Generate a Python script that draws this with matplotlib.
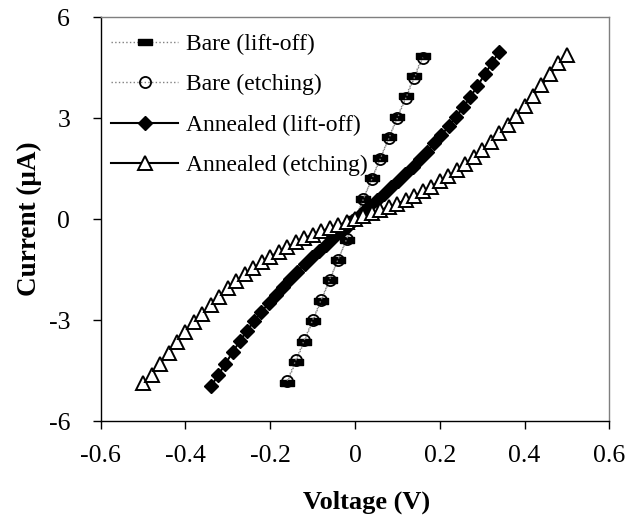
import matplotlib
matplotlib.use('Agg')
import matplotlib.pyplot as plt
import numpy as np

plt.rcParams['font.family'] = 'Liberation Serif'
plt.rcParams['font.size'] = 17
plt.rcParams['axes.unicode_minus'] = False

# Bare samples (V, uA)
v_bare = [-0.16, -0.14, -0.12, -0.10, -0.08, -0.06, -0.04, -0.02, 0.0,
          0.02, 0.04, 0.06, 0.08, 0.10, 0.12, 0.14, 0.16]
i_bare_liftoff = [-4.86, -4.25, -3.65, -3.04, -2.43, -1.82, -1.22, -0.61, 0.0,
                  0.61, 1.22, 1.82, 2.43, 3.04, 3.65, 4.25, 4.86]
i_bare_etching = [-4.80, -4.20, -3.60, -3.00, -2.40, -1.80, -1.20, -0.60, 0.0,
                  0.60, 1.20, 1.80, 2.40, 3.00, 3.60, 4.20, 4.80]

# Annealed lift-off
v_ann_lo_pos = [0.0, 0.017, 0.034, 0.051, 0.068, 0.085, 0.102, 0.119, 0.136, 0.153,
                0.170, 0.187, 0.204, 0.221, 0.238, 0.255, 0.272, 0.289, 0.306, 0.323, 0.340]
i_ann_lo_pos = [0.0, 0.19, 0.38, 0.57, 0.76, 0.95, 1.14, 1.34, 1.56, 1.78,
                2.01, 2.25, 2.50, 2.76, 3.03, 3.32, 3.63, 3.96, 4.30, 4.64, 4.97]

# Annealed etching
v_ann_et_pos = [0.0, 0.02, 0.04, 0.06, 0.08, 0.10, 0.12, 0.14, 0.16, 0.18, 0.20, 0.22, 0.24,
                0.26, 0.28, 0.30, 0.32, 0.34, 0.36, 0.38, 0.40, 0.42, 0.44, 0.46, 0.48, 0.50]
i_ann_et_pos = [0.0, 0.09, 0.18, 0.27, 0.36, 0.46, 0.57, 0.69, 0.83, 0.97, 1.12, 1.28, 1.45,
                1.64, 1.84, 2.06, 2.30, 2.55, 2.81, 3.07, 3.35, 3.66, 3.98, 4.30, 4.63, 4.88]

# negative branches are mirror images of the measured positive sweep
v_ann_lo = [-v for v in v_ann_lo_pos[:0:-1]] + v_ann_lo_pos
i_ann_lo = [-i for i in i_ann_lo_pos[:0:-1]] + i_ann_lo_pos
v_ann_et = [-v for v in v_ann_et_pos[:0:-1]] + v_ann_et_pos
i_ann_et = [-i for i in i_ann_et_pos[:0:-1]] + i_ann_et_pos

dash_marker = [(-1, -0.4), (1, -0.4), (1, 0.4), (-1, 0.4), (-1, -0.4)]

fig = plt.figure(figsize=(6.31, 5.23), dpi=100)
ax = fig.add_axes([0.1596, 0.195, 0.806, 0.772])

ax.plot(v_bare, i_bare_liftoff, color='#808080', linestyle=':', linewidth=1.0,
        marker=dash_marker, markersize=10, markerfacecolor='black',
        markeredgecolor='black', label='Bare (lift-off)', zorder=2)
ax.plot(v_bare, i_bare_etching, color='#808080', linestyle=':', linewidth=1.0,
        marker='o', markersize=8, markerfacecolor='none', markeredgecolor='black',
        markeredgewidth=1.3, label='Bare (etching)', zorder=3)
ax.plot(v_ann_lo, i_ann_lo, color='black', linestyle='-', linewidth=1.5,
        marker='D', markersize=7, markerfacecolor='black', markeredgecolor='black',
        label='Annealed (lift-off)', zorder=4)
ax.plot(v_ann_et, i_ann_et, color='black', linestyle='-', linewidth=1.5,
        marker='^', markersize=9.5, markerfacecolor='white', markeredgecolor='black',
        markeredgewidth=1.4, label='Annealed (etching)', zorder=5)

ax.set_xlim(-0.6, 0.6)
ax.set_ylim(-6, 6)
ax.set_xticks([-0.6, -0.4, -0.2, 0, 0.2, 0.4, 0.6])
ax.set_xticklabels(['-0.6', '-0.4', '-0.2', '0', '0.2', '0.4', '0.6'])
ax.set_yticks([-6, -3, 0, 3, 6])
ax.set_yticklabels(['-6', '-3', '0', '3', '6'])
ax.tick_params(direction='out', length=6, width=1.0, labelsize=18.5)
ax.tick_params(axis='x', pad=11)
ax.tick_params(axis='y', pad=16)

for s in ['left', 'bottom']:
    ax.spines[s].set_color('black')
    ax.spines[s].set_linewidth(1.0)
for s in ['top', 'right']:
    ax.spines[s].set_color('#7f7f7f')
    ax.spines[s].set_linewidth(1.0)

ax.set_xlabel('Voltage (V)', fontweight='bold', fontsize=19)
ax.set_ylabel('Current (\u03bcA)', fontweight='bold', fontsize=19.5)
ax.xaxis.set_label_coords(0.522, -0.172)
ax.yaxis.set_label_coords(-0.115, 0.5)

ax.legend(loc='upper left', bbox_to_anchor=(0.0, 0.985), frameon=False,
          handlelength=2.85, handletextpad=0.35, labelspacing=0.8,
          borderaxespad=0.08, borderpad=0.35, fontsize=17)

fig.savefig('out.png', dpi=100)
